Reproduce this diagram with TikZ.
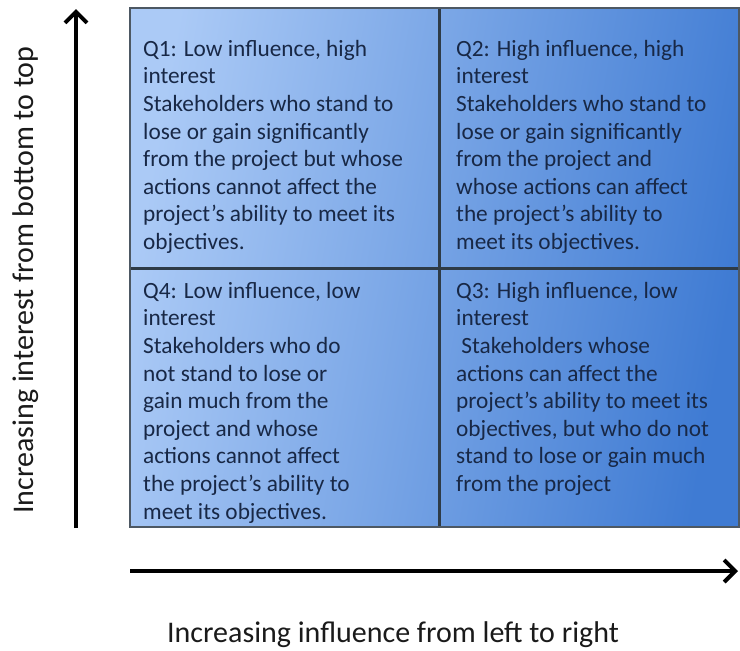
\documentclass[tikz,border=0pt]{standalone}
\usepackage{fontspec}
\setmainfont{Carlito}
\usetikzlibrary{arrows.meta}
\definecolor{cellL}{HTML}{ABCAF6}
\definecolor{cellM}{HTML}{86B0EC}
\definecolor{cellR}{HTML}{3F7BD3}
\definecolor{divider}{HTML}{2E3B47}
\definecolor{cellText}{HTML}{182846}
\definecolor{axisText}{HTML}{1A1A1A}
\tikzset{
  celltext/.style={anchor=north west, inner sep=0pt, align=left, text=cellText,
    font=\fontsize{23.3}{27.6}\selectfont},
  axislabel/.style={inner sep=0pt, text=axisText, font=\fontsize{30}{36}\selectfont},
  axisarrow/.style={line width=4pt, -{Straight Barb[length=11pt,width=22pt]}},
}
\begin{document}
\begin{tikzpicture}[x=1pt,y=-1pt]
\useasboundingbox (0,0) rectangle (740,651);
% grid background
\shade[left color=cellL, middle color=cellM, right color=cellR, shading angle=80]
  (130,8) rectangle (739,527);
\draw[divider, line width=3pt] (439,8) -- (439,527);
\draw[divider, line width=3pt] (130,268) -- (739,268);
\draw[divider!85, line width=1.5pt] (130,8) rectangle (739,527);
% texts
\node[celltext] (q1) at (143,40) {Q1: Low influence, high\\interest\\Stakeholders who stand to\\lose or gain significantly\\from the project but whose\\actions cannot affect the\\project’s ability to meet its\\objectives.};
\node[celltext] (q2) at (456,40) {Q2: High influence, high\\interest\\Stakeholders who stand to\\lose or gain significantly\\from the project and\\whose actions can affect\\the project’s ability to\\meet its objectives.};
\node[celltext] (q4) at (143,282) {Q4: Low influence, low\\interest\\Stakeholders who do\\not stand to lose or\\gain much from the\\project and whose\\actions cannot affect\\the project’s ability to\\meet its objectives.};
\node[celltext] (q3) at (456,282) {Q3: High influence, low\\interest\\\ Stakeholders whose\\actions can affect the\\project’s ability to meet its\\objectives, but who do not\\stand to lose or gain much\\from the project};
% axes
\coordinate (ybot) at (76,528);
\coordinate (ytop) at (76,9);
\coordinate (xleft) at (130,571);
\coordinate (xright) at (738,571);
\draw[axisarrow] (ybot) -- (ytop);
\draw[axisarrow] (xleft) -- (xright);
\node[axislabel, rotate=90] (ylab) at (26,280) {Increasing interest from bottom to top};
\node[axislabel] (xlab) at (393,635) {Increasing influence from left to right};
\end{tikzpicture}
\end{document}
